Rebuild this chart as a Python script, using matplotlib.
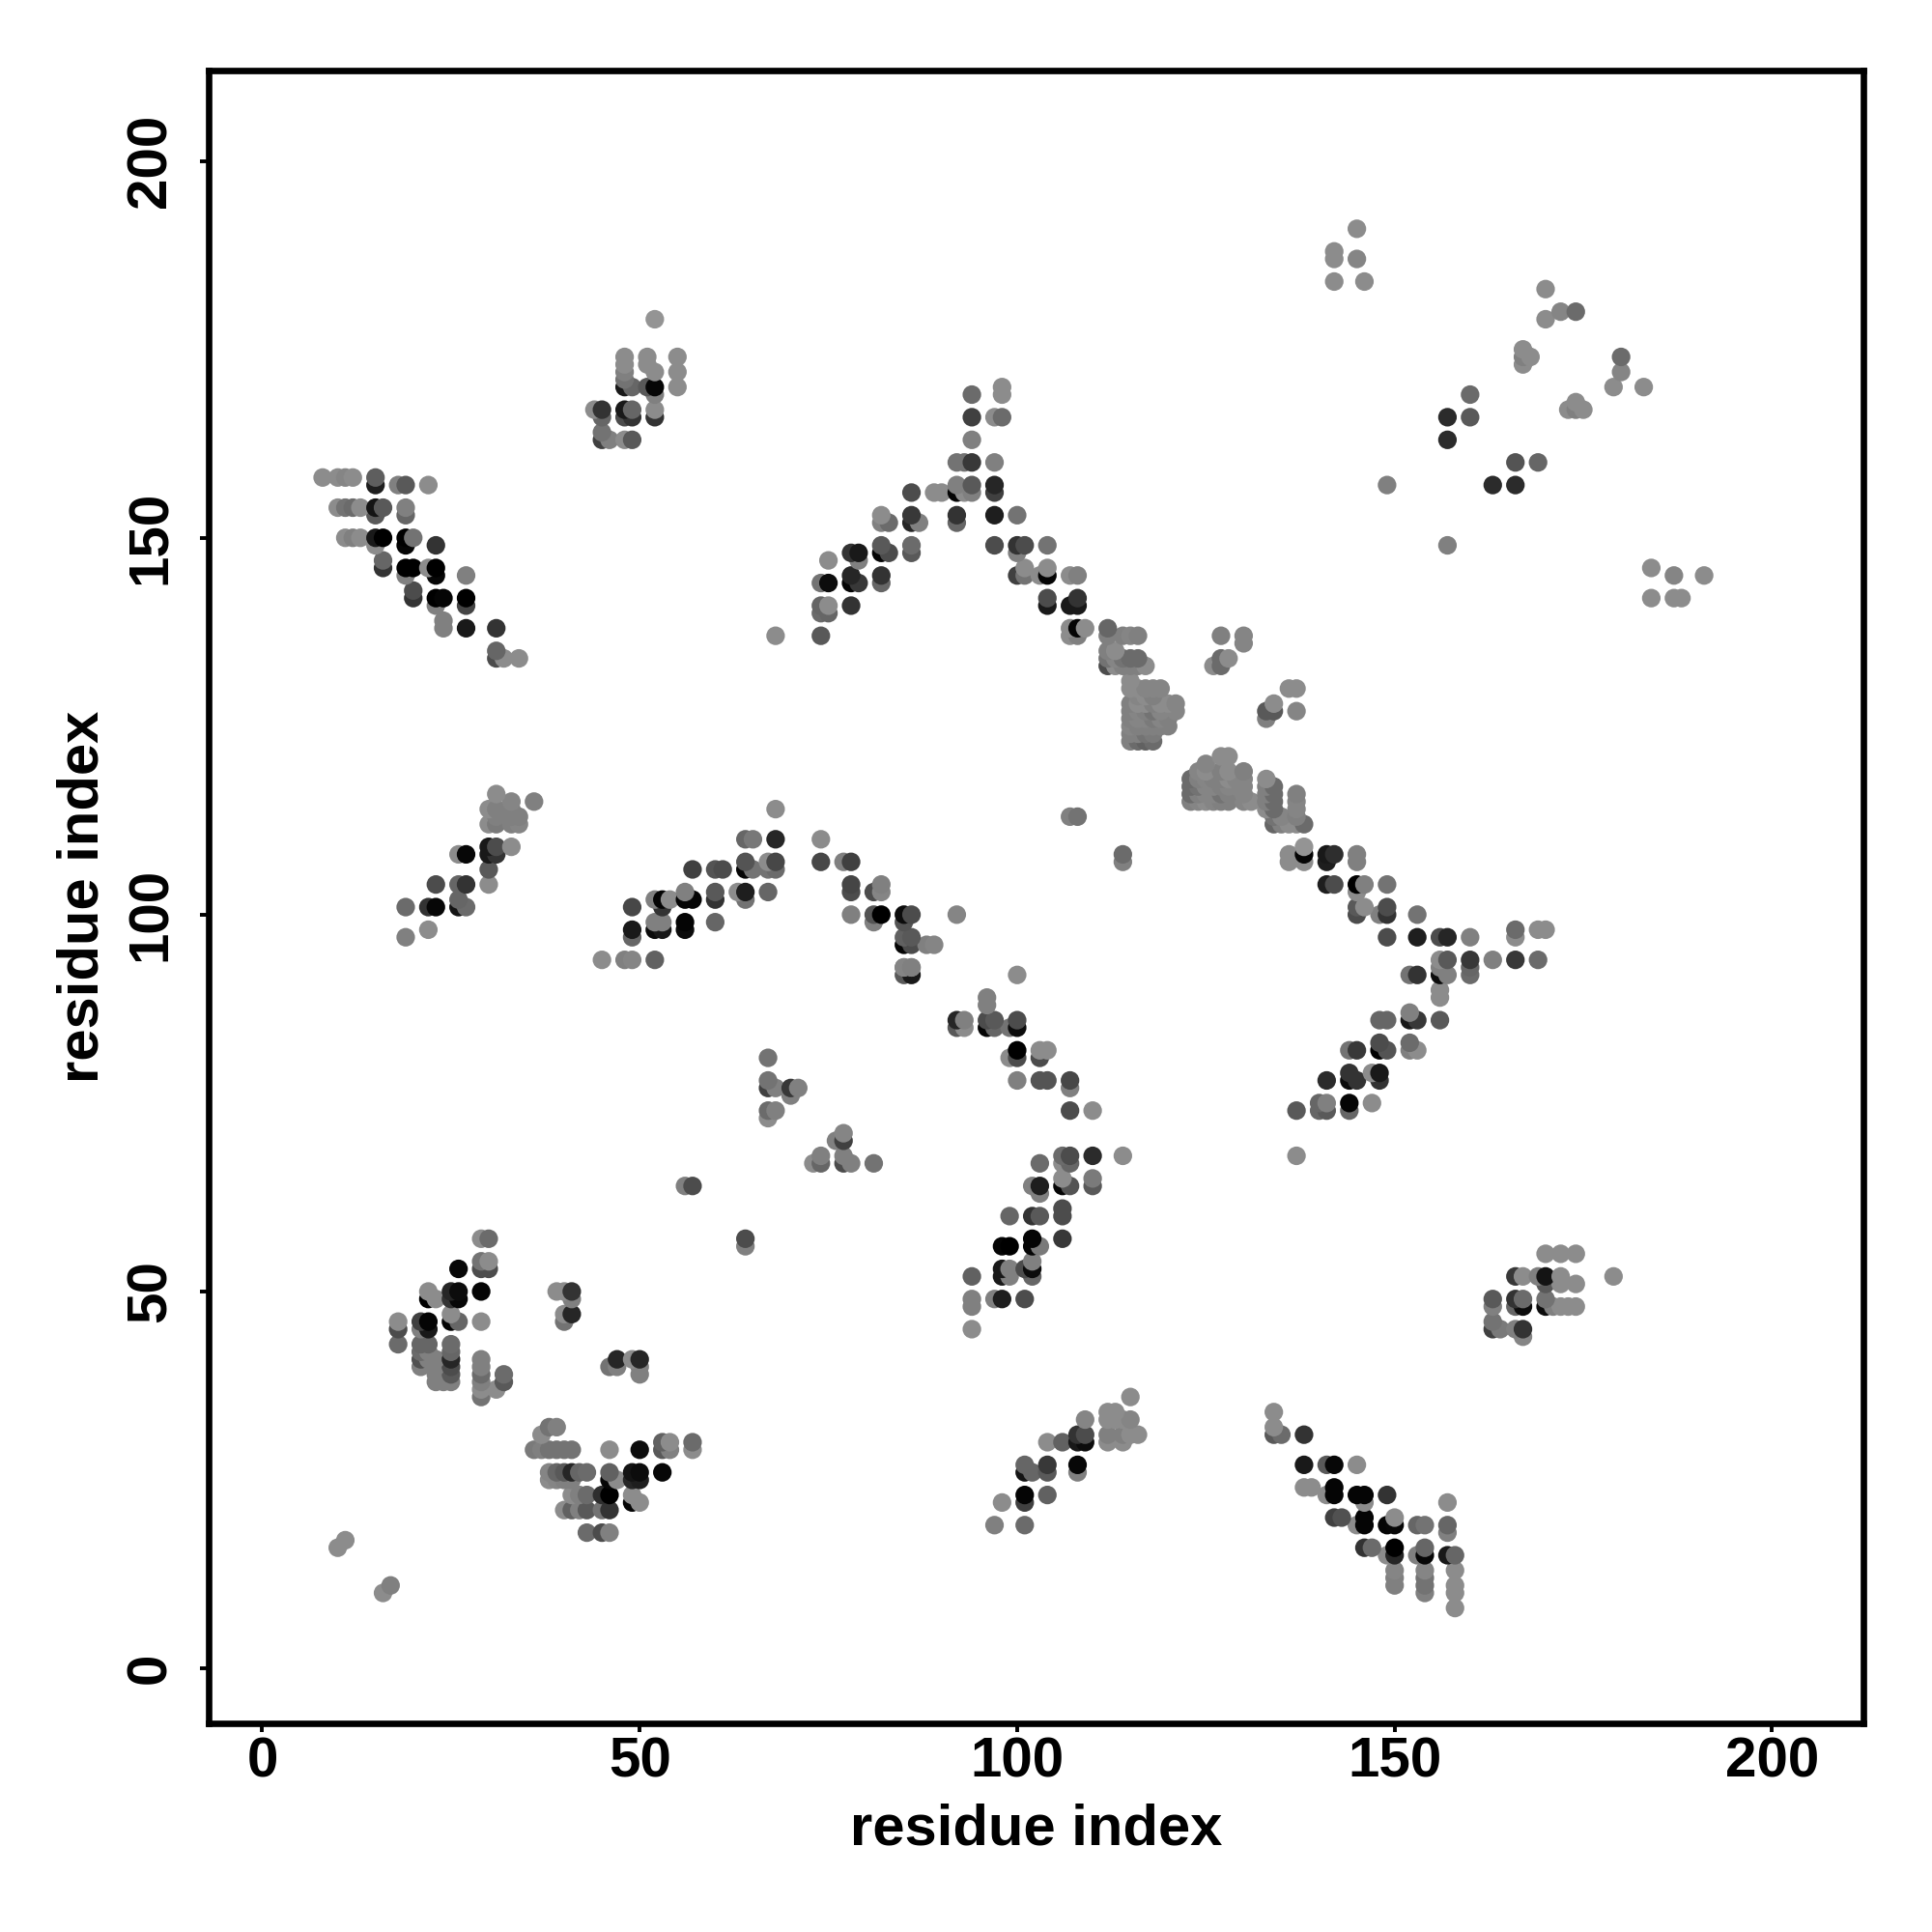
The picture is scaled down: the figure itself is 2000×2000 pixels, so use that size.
import numpy as np
import matplotlib
matplotlib.use('Agg')
import matplotlib.pyplot as plt

# every contact is (residue i, residue j, grey level)
lower_left = [
    (29,57,.55),(30,57,.42),(29,54,.45),(30,54,.55),(26,53,.03),(29,53,.3),(30,53,.3),
    (22,50,.55),(25,50,.15),(26,50,.05),(29,50,.02),(22,49,0),(23,49,.55),(25,49,.2),(26,49,.03),
    (25,47,.55),(18,46,.55),(21,46,.25),(22,46,.02),(25,46,.02),(26,46,.4),(29,46,.55),
    (18,45,.3),(21,45,.5),(22,45,.1),(18,43,.42),(21,43,.4),(22,43,.4),(25,43,.42),
    (21,42,.42),(22,42,.5),(25,42,.4),(21,41,.32),(22,41,.5),(23,41,.5),(25,41,.15),(29,41,.5),
    (21,40,.5),(23,40,.5),(25,40,.3),(29,40,.5),(23,39,.5),(25,39,.35),(29,39,.42),(32,39,.42),
    (23,38,.5),(24,38,.5),(25,38,.5),(29,38,.5),(32,38,.35),(29,37,.55),(31,37,.55),(29,36,.45),
    (39,50,.55),(40,50,.55),(41,50,.2),(41,49,.5),(40,47,.55),(41,47,.15),(40,46,.45),
    (47,41,.15),(49,41,.55),(50,41,.15),(46,40,.45),(47,40,.5),(50,40,.5),(50,39,.5),
    (38,32,.45),(39,32,.5),(37,31,.55),(53,30,.38),(54,30,.55),(57,30,.42),
    (36,29,.48),(37,29,.5),(38,29,.45),(39,29,.45),(40,29,.45),(41,29,.45),(46,29,.55),(50,29,.05),
    (53,29,.35),(54,29,.5),(57,29,.55),
    (38,26,.52),(39,26,.4),(40,26,.35),(41,26,.15),(42,26,.4),(43,26,.42),(46,26,.38),(49,26,.08),
    (50,26,.05),(53,26,.03),(38,25,.55),(39,25,.52),(40,25,.5),(41,25,.5),(46,25,.03),(47,25,.55),
    (49,25,.15),(50,25,.12),(41,23,.55),(42,23,.5),(43,23,.42),(45,23,.18),(46,23,0),(49,23,.55),
    (49,22,.02),(50,22,.55),(40,21,.55),(41,21,.38),(42,21,.5),(43,21,.35),(45,21,.45),(46,21,.2),
    (43,18,.42),(45,18,.3),(46,18,.5),(17,11,.5),(16,10,.55),(11,17,.55),(10,16,.55),
]
bottom_strands = [
    (115,36,.55),(112,34,.55),(113,34,.55),(109,33,.52),(112,33,.55),(113,33,.55),(114,33,.55),
    (115,33,.52),(108,31,.2),(109,31,.3),(112,31,.5),(114,31,.5),(115,31,.55),(116,31,.55),
    (104,30,.55),(106,30,.38),(108,30,.1),(109,30,.05),(112,30,.55),(114,30,.55),
    (101,27,.4),(104,27,.22),(108,27,.03),(101,26,.08),(102,26,.4),(104,26,.35),(108,26,.5),
    (101,23,.02),(104,23,.38),(98,22,.55),(101,22,.25),(97,19,.5),(101,19,.42),
    (134,34,.55),(134,32,.55),(134,31,.35),(135,31,.42),(138,31,.2),
    (138,27,.1),(141,27,.35),(142,27,.03),(145,27,.55),(138,24,.55),(139,24,.55),(142,24,.02),
    (141,23,.55),(142,23,.02),(145,23,.02),(146,23,.02),(149,23,.2),(146,22,.55),(157,22,.55),
    (142,20,.25),(143,20,.32),(146,20,.02),(150,20,.55),(145,19,.55),(146,19,.02),(149,19,.02),
    (150,19,.03),(153,19,.4),(154,19,.45),(157,19,.4),(157,18,.5),
    (146,16,.2),(147,16,.42),(150,16,0),(154,16,.4),(149,15,.55),(150,15,.15),(153,15,.5),
    (154,15,.03),(157,15,.1),(158,15,.4),(150,13,.52),(154,13,.52),(158,13,.55),
    (150,12,.5),(154,12,.45),(150,11,.5),(154,11,.45),(158,11,.55),(154,10,.5),(158,10,.55),(158,8,.55),
]
lower_right = [
    (170,55,.55),(172,55,.55),(174,55,.55),(166,52,.22),(167,52,.55),(169,52,.5),(170,52,.08),
    (172,52,.55),(179,52,.55),(170,51,.35),(172,51,.55),(174,51,.55),(163,49,.35),(166,49,.2),
    (167,49,.42),(170,49,.45),(163,48,.5),(166,48,.4),(167,48,.05),(170,48,.05),(171,48,.5),
    (172,48,.55),(173,48,.55),(174,48,.55),(163,46,.45),(163,45,.25),(164,45,.48),(166,45,.5),
    (167,45,.2),(167,44,.52),
]
middle_sheet = [
    (85,93,.5),(86,93,.5),(85,92,.35),(86,92,.1),(96,89,.5),(96,88,.5),(92,86,.15),(93,86,.5),
    (96,86,.3),(97,86,.35),(100,86,.3),(92,85,.35),(93,85,.55),(96,85,.02),(97,85,.4),(99,85,.45),
    (100,85,.05),(100,92,.55),(100,82,0),(103,82,.55),(104,82,.55),(99,81,.55),(100,81,.3),(103,81,.3),
    (100,78,.5),(103,78,.33),(104,78,.33),(107,78,.28),(107,77,.5),(107,74,.3),(110,74,.55),
    (106,68,.42),(107,68,.3),(110,68,.17),(114,68,.55),(103,67,.42),(106,67,.55),(107,67,.4),
    (106,65,.55),(110,65,.48),(102,64,.5),(103,64,.12),(106,64,.02),(107,64,.33),(110,64,.35),
    (103,63,.5),(106,61,.3),(99,60,.4),(102,60,.2),(103,60,.35),(106,60,.3),(102,57,.02),(106,57,.22),
    (98,56,.02),(99,56,0),(102,56,.02),(103,56,.48),(102,54,.5),(98,53,.1),(99,53,.5),(101,53,.3),
    (102,53,.05),(94,52,.38),(98,52,.1),(99,52,.5),(102,52,.4),(94,49,.5),(97,49,.5),(98,49,.12),
    (101,49,.3),(94,48,.5),(94,45,.55),
    (77,71,.52),(76,70,.5),(77,70,.25),(74,68,.5),(77,68,.5),(73,67,.55),(74,67,.4),(77,67,.3),
    (78,67,.5),(81,67,.45),(67,81,.45),(67,78,.45),(67,77,.25),(68,77,.5),(70,77,.22),(71,77,.5),
    (70,76,.5),(67,74,.42),(68,74,.5),(67,73,.55),(56,64,.5),(57,64,.3),(64,57,.3),(64,56,.5),
]
left_arcs = [
    (31,116,.55),(33,115,.52),(36,115,.5),(30,114,.55),(31,114,.5),(33,114,.5),(31,113,.5),
    (33,113,.5),(34,113,.5),(30,112,.55),(31,112,.48),(33,112,.5),(34,112,.52),(33,109,.55),
    (30,109,.1),(31,109,.3),(26,108,.55),(27,108,.03),(30,108,.1),(31,108,.2),(30,106,.35),
    (23,104,.3),(26,104,.4),(27,104,.2),(30,104,.55),(26,102,.4),(19,101,.42),(22,101,.2),
    (23,101,.03),(26,101,.08),(27,101,.42),(22,98,.55),(19,97,.5),
    (45,94,.55),(48,94,.5),(49,94,.52),(52,94,.38),(49,101,.28),(52,102,.5),(53,102,.02),(54,102,.55),
    (56,103,.5),(56,102,.02),(57,102,.02),(60,103,.35),(60,102,.2),(63,103,.55),(64,103,.12),
    (64,102,.45),(67,103,.4),(53,101,.2),(52,99,.5),(53,99,.5),(56,99,.02),(60,99,.4),(49,98,.1),
    (52,98,.05),(53,98,.1),(56,98,.05),(49,97,.4),(57,106,.25),(60,106,.33),(61,106,.3),(64,106,.02),
    (65,106,.45),(67,106,.45),(68,106,.42),(64,107,.33),(67,107,.55),(68,107,.28),(74,107,.28),
    (77,107,.5),(78,107,.25),(64,110,.4),(65,110,.47),(68,110,.15),(74,110,.55),(68,114,.55),
    (78,104,.27),(82,104,.5),(78,103,.3),(81,103,.3),(82,103,.52),(78,100,.5),(81,100,.33),(82,100,0),
    (85,100,.05),(86,100,.3),(92,100,.52),(81,99,.5),(85,99,.33),(85,97,.38),(86,97,.35),(85,96,.02),
    (86,96,.3),(88,96,.5),(89,96,.52),(85,93,.52),(86,93,.5),
]
top_left = [
    (8,158,.55),(10,158,.55),(11,158,.52),(12,158,.55),(15,158,.37),(15,157,.12),(18,157,.5),
    (19,157,.35),(22,157,.55),(10,154,.55),(11,154,.45),(12,154,.42),(13,154,.55),(15,154,.08),
    (16,154,.35),(19,154,.5),(15,153,.35),(19,153,.4),(11,150,.55),(12,150,.5),(13,150,.55),
    (15,150,.1),(16,150,0),(19,150,0),(20,150,.45),(15,149,.55),(19,149,.02),(23,149,.2),(16,147,.4),
    (16,146,.2),(19,146,0),(20,146,0),(22,146,.55),(23,146,0),(19,145,.5),(23,145,.03),(27,145,.5),
    (20,143,.3),(20,142,.2),(23,142,0),(24,142,.02),(27,142,0),(23,141,.5),(27,141,.27),(24,139,.5),
    (24,138,.5),(27,138,.1),(31,138,.2),(31,135,.4),(31,134,.3),(32,134,.55),(34,134,.55),
    (52,179,.58),(48,174,.55),(48,173,.55),(48,172,.5),(48,171,.45),(51,174,.55),(51,173,.55),
    (52,172,.55),(55,174,.55),(55,172,.55),(55,170,.55),(48,170,.1),(49,170,.4),(51,170,.35),
    (52,170,.03),(52,169,.5),(52,167,.55),(52,166,.2),(44,167,.55),(45,167,.2),(45,166,.4),
    (48,167,.1),(49,167,.4),(48,166,.3),(49,166,.2),(45,164,.45),(45,163,.25),(46,163,.5),
    (48,163,.55),(49,163,.35),
]
central_arch = [
    (94,169,.42),(98,170,.55),(98,169,.55),(94,166,.25),(97,166,.55),(98,166,.42),(94,163,.5),
    (92,160,.45),(93,160,.45),(94,160,.22),(97,160,.5),(92,157,.5),(94,157,.35),(97,157,.15),
    (86,156,.3),(89,156,.55),(90,156,.55),(92,156,.02),(93,156,.55),(94,156,.5),(97,156,.25),
    (86,153,.22),(92,153,.2),(97,153,.12),(100,153,.45),(82,153,.55),(86,152,.15),(87,152,.5),
    (82,152,.5),(83,152,.42),(92,152,.4),(82,149,.35),(86,149,.42),(97,149,.3),(100,149,.2),
    (101,149,.3),(104,149,.45),(78,148,.2),(79,148,.1),(82,148,.02),(83,148,.3),(86,148,.35),
    (100,148,.5),(75,147,.55),(79,147,.5),(101,146,.55),(104,146,.55),(78,145,.15),(82,145,.2),
    (100,145,.25),(101,145,.45),(103,145,.55),(104,145,.02),(107,145,.55),(108,145,.5),
    (74,144,.45),(75,144,.05),(78,144,.02),(79,144,.22),(82,144,.4),(104,142,.3),(108,142,.2),
    (74,141,.4),(75,141,.55),(78,141,.2),(104,141,.1),(107,141,.1),(108,141,.1),(74,140,.42),
    (75,140,.4),(107,138,.55),(108,138,.02),(109,138,.55),(112,138,.4),(74,137,.35),(68,137,.55),
    (107,137,.55),(108,137,.5),(112,137,.5),(114,137,.5),(115,137,.52),(116,137,.5),
    (112,135,.5),(113,135,.55),(112,134,.45),(113,134,.52),(114,134,.45),(115,134,.42),(116,134,.42),
    (112,133,.3),(113,133,.55),(114,133,.5),(115,133,.5),(116,133,.5),(117,133,.55),
]
blob_upper = [
    (115,123,.5),(115,124,.5),(115,125,.52),(115,126,.5),(115,127,.5),(115,128,.5),(115,130,.55),(115,131,.55),
    (116,123,.42),(116,124,.5),(116,125,.5),(116,126,.52),(116,127,.52),(116,128,.55),(116,129,.52),(116,130,.55),
    (117,123,.38),(117,124,.45),(117,125,.5),(117,126,.52),(117,127,.5),(117,128,.55),(117,129,.55),(117,130,.52),
    (118,123,.42),(118,124,.48),(118,125,.5),(118,126,.48),(118,127,.45),(118,128,.5),(118,129,.5),(118,130,.52),
    (119,125,.5),(119,126,.52),(119,127,.52),(119,128,.55),(119,130,.52),(120,125,.5),(120,126,.5),(120,128,.55),
    (121,127,.52),(121,128,.52),
    (127,137,.5),(130,137,.52),(130,136,.52),(126,133,.55),(127,134,.42),(127,133,.42),(128,134,.55),
    (134,128,.55),(136,130,.55),(137,130,.55),(133,127,.35),(133,126,.5),(134,127,.35),(137,127,.52),
    (107,113,.5),(108,113,.45),(114,108,.42),(114,107,.5),
]
blob_lower = [
    (123,115,.5),(123,116,.42),(123,117,.42),(123,118,.42),(124,115,.52),(124,116,.5),(124,117,.45),
    (124,118,.5),(124,119,.52),(125,115,.55),(125,116,.52),(125,117,.52),(125,118,.52),(125,119,.55),
    (125,120,.52),(126,115,.52),(126,116,.52),(126,117,.52),(126,118,.5),(127,115,.5),(127,116,.45),
    (127,117,.5),(127,118,.5),(127,119,.5),(127,121,.55),(128,115,.5),(128,116,.5),(128,117,.52),
    (128,118,.55),(128,119,.55),(128,121,.55),(129,117,.52),(129,118,.52),(130,115,.52),(130,116,.52),
    (130,117,.52),(130,118,.52),(130,119,.5),(131,115,.55),(133,114,.55),(133,115,.5),(133,116,.5),
    (133,117,.5),(133,118,.55),(134,112,.4),(134,113,.45),(134,114,.42),(134,115,.42),(134,116,.42),
    (134,117,.42),(135,112,.5),(135,113,.52),(136,112,.55),(137,112,.55),(137,113,.5),(137,114,.52),
    (137,115,.52),(137,116,.5),(138,112,.42),
]
right_arm = [
    (138,109,.58),(136,108,.55),(138,108,.02),(141,108,.1),(142,108,.18),(145,108,.5),(136,107,.55),
    (138,107,.55),(141,107,.12),(145,107,.5),(141,104,.12),(142,104,.3),(145,104,0),(146,104,.5),
    (149,104,.45),(145,103,.55),(145,101,.35),(146,101,.55),(149,101,.3),(145,100,.3),(148,100,.5),
    (149,100,.2),(153,100,.45),(149,97,.3),(153,97,.12),(156,97,.3),(157,97,.15),(160,97,.5),
    (166,98,.42),(166,97,.55),(169,98,.55),(170,98,.55),(156,94,.55),(157,94,.35),(160,94,.22),
    (163,94,.5),(166,94,.22),(169,94,.42),(156,93,.5),(160,93,.4),(152,92,.45),(153,92,.2),(156,92,.05),
    (157,92,.5),(160,92,.42),(156,90,.55),(156,89,.55),(152,87,.5),(148,86,.4),(149,86,.4),(152,86,.1),
    (153,86,.22),(156,86,.35),(148,83,.3),(152,83,.42),(144,82,.45),(145,82,.22),(148,82,0),(149,82,.33),
    (152,82,.5),(153,82,.55),(144,79,.2),(147,79,.55),(148,79,.1),(141,78,.17),(144,78,.05),(145,78,.2),
    (148,78,.2),(140,75,.4),(141,75,.5),(144,75,.02),(147,75,.55),(137,74,.35),(140,74,.4),(141,74,.35),
    (144,74,.4),(137,68,.55),
]
top_right = [
    (142,188,.55),(142,187,.55),(142,184,.55),(145,191,.55),(145,187,.52),(146,184,.55),
    (170,183,.55),(172,180,.52),(174,180,.42),(170,179,.55),(167,175,.55),(167,174,.5),(168,174,.55),
    (167,173,.55),(180,174,.42),(180,172,.52),(179,170,.55),(183,170,.55),(174,168,.55),(173,167,.55),
    (174,167,.5),(175,167,.55),(160,169,.42),(157,166,.17),(160,166,.35),(157,163,.17),(166,160,.33),
    (169,160,.4),(163,157,.17),(166,157,.17),(149,157,.5),(157,149,.5),
    (184,146,.55),(187,145,.52),(191,145,.55),(184,142,.55),(187,142,.55),(188,142,.55),
]
ticks = [0, 50, 100, 150, 200]

plt.rcParams['font.family'] = ['Liberation Sans', 'DejaVu Sans']
plt.rcParams['font.weight'] = 'bold'

contacts = np.array(lower_left + bottom_strands + lower_right + middle_sheet + left_arcs
                    + top_left + central_arch + blob_upper + blob_lower + right_arm + top_right)
# later residues are drawn over earlier ones, as in the original
contacts = contacts[np.lexsort((contacts[:, 0], contacts[:, 1]))]

fig = plt.figure(figsize=(10, 10), dpi=200)
ax = fig.add_axes([216 / 2000, 1 - 1784 / 2000, (1929 - 216) / 2000, (1784 - 73) / 2000])
ax.scatter(contacts[:, 0], contacts[:, 1], c=contacts[:, 2], cmap='gray', vmin=0, vmax=1,
           s=48, linewidths=0)

ax.set_xlim(-7.1, 212.1)
ax.set_ylim(-7.3, 212.0)
ax.set_xticks(ticks)
ax.set_yticks(ticks)
ax.tick_params(axis='both', length=3.2, width=1.4, labelsize=21)
ax.tick_params(axis='x', pad=1.5)
ax.tick_params(axis='y', pad=8.5)
for lab in ax.get_yticklabels():
    lab.set_rotation(90)
    lab.set_verticalalignment('center')
for spine in ax.spines.values():
    spine.set_linewidth(2.4)
ax.set_xlabel('residue index', fontsize=21.5, fontweight='bold', labelpad=5.4)
ax.set_ylabel('residue index', fontsize=21.5, fontweight='bold', labelpad=5.6)

fig.savefig('out.png', dpi=200)
